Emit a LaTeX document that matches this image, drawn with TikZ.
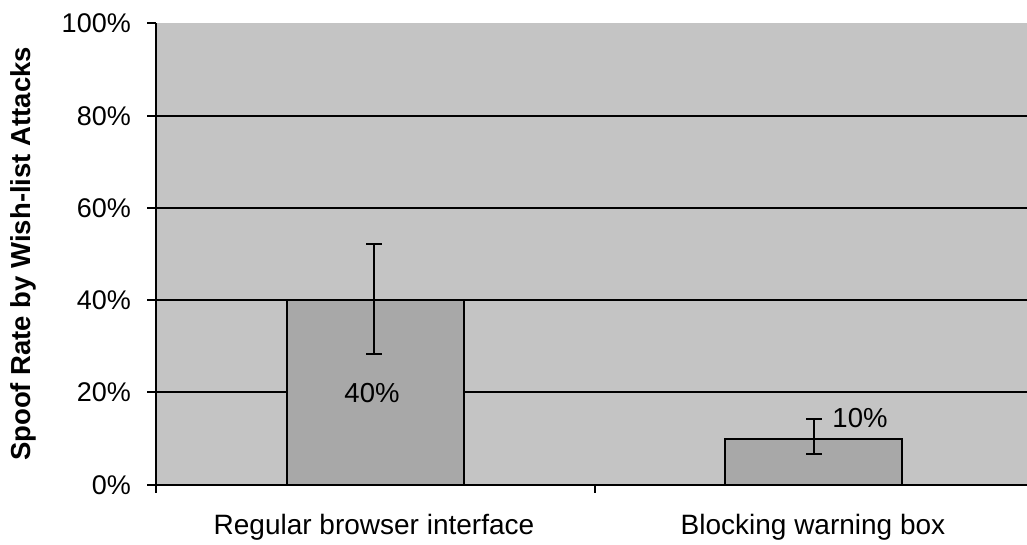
\documentclass[tikz,border=0pt]{standalone}
\usepackage{fontspec}
\setmainfont{Liberation Sans}
\definecolor{plotbg}{RGB}{196,196,196}
\definecolor{barfill}{RGB}{168,168,168}
\begin{document}
\begin{tikzpicture}[x=1pt,y=-1pt,
  axisline/.style={line width=1.6pt,black},
  gridline/.style={line width=1.4pt,black},
  bar/.style={fill=barfill,draw=black,line width=1.6pt},
  errbar/.style={line width=1.6pt,black},
  ticklabel/.style={font=\fontsize{27}{30}\selectfont,anchor=east,inner sep=0pt},
  catlabel/.style={font=\fontsize{28}{32}\selectfont,inner sep=0pt},
  vallabel/.style={font=\fontsize{27.5}{30}\selectfont,inner sep=0pt}]
\useasboundingbox (0,0) rectangle (1027,544);
\fill[white] (0,0) rectangle (1027,544);
% plot area
\fill[plotbg] (156,23) rectangle (1027,485);
% horizontal grid lines
\foreach \y in {116,208,300,392}
  \draw[gridline] (156,\y) -- (1027,\y);
% bars
\draw[bar] (287,485) rectangle (464,300);
\draw[bar] (725,485) rectangle (902,439);
% error bars
\coordinate (e1t) at (374,244);
\coordinate (e1b) at (374,354);
\draw[errbar] (e1t) -- (e1b);
\draw[errbar] ([xshift=-8pt]e1t) -- ([xshift=8pt]e1t);
\draw[errbar] ([xshift=-8pt]e1b) -- ([xshift=8pt]e1b);
\coordinate (e2t) at (814,419);
\coordinate (e2b) at (814,454);
\draw[errbar] (e2t) -- (e2b);
\draw[errbar] ([xshift=-8pt]e2t) -- ([xshift=8pt]e2t);
\draw[errbar] ([xshift=-8pt]e2b) -- ([xshift=8pt]e2b);
% axes
\draw[axisline] (156,23) -- (156,485) -- (1027,485);
\foreach \y/\t in {23/100,116/80,208/60,300/40,392/20,485/0}{
  \draw[axisline] (147,\y) -- (156,\y);
  \node[ticklabel] (yl\t) at (131,\y) {\t\%};
}
\draw[axisline] (156,485) -- (156,493);
\draw[axisline] (595,485) -- (595,493);
% value labels
\node[vallabel] (v1) at (372,393) {40\%};
\node[vallabel] (v2) at (860,418) {10\%};
% category labels
\node[catlabel] (c1) at (374,527) {Regular browser interface};
\node[catlabel] (c2) at (813,527) {Blocking warning box};
% axis title
\node[font=\bfseries\fontsize{27.5}{30}\selectfont,rotate=90,inner sep=0pt] (yt) at (23,254) {Spoof Rate by Wish-list Attacks};
\end{tikzpicture}
\end{document}
